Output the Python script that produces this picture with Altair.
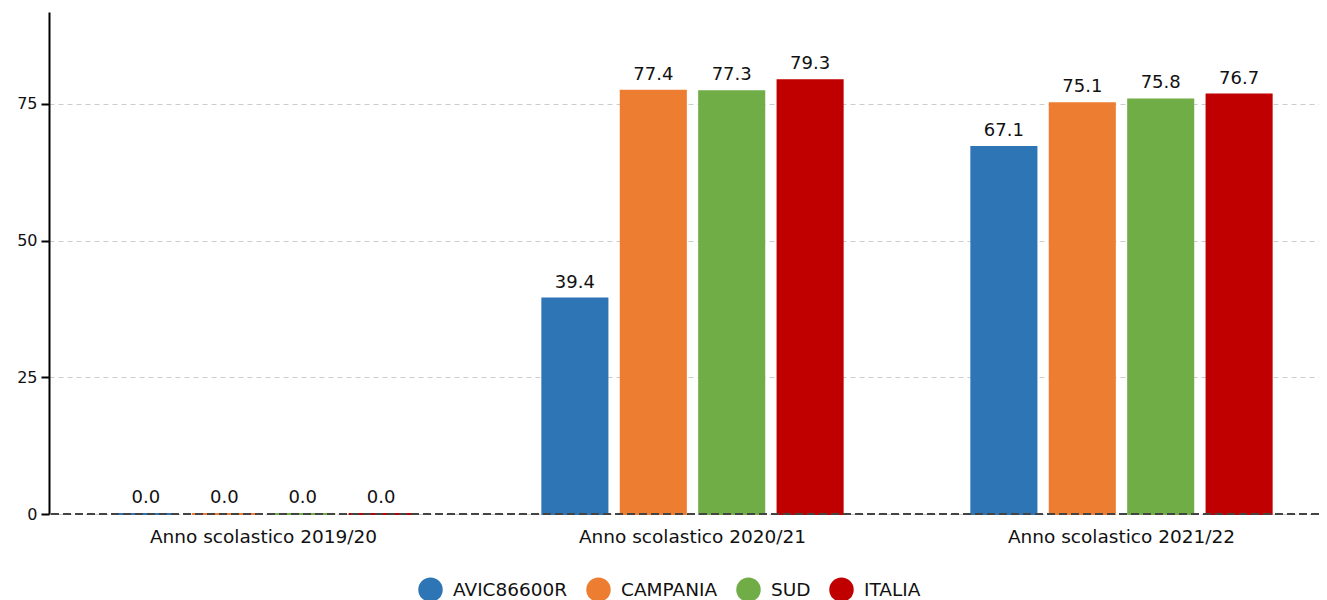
import altair as alt
import pandas as pd

years = ["Anno scolastico 2019/20", "Anno scolastico 2020/21", "Anno scolastico 2021/22"]
series = ["AVIC86600R", "CAMPANIA", "SUD", "ITALIA"]
colors = ["#2E75B6", "#ED7D31", "#70AD47", "#C00000"]
avic = [0.0, 39.4, 67.1]
campania = [0.0, 77.4, 75.1]
sud = [0.0, 77.3, 75.8]
italia = [0.0, 79.3, 76.7]

rows = []
for s, vals in zip(series, [avic, campania, sud, italia]):
    for y, v in zip(years, vals):
        rows.append({"anno": y, "serie": s, "valore": v})
df = pd.DataFrame(rows)

FONT = "DejaVu Sans"

x = alt.X("anno:N", sort=years, title=None,
          scale=alt.Scale(paddingInner=0.30, paddingOuter=0.15, range=[0, 1287]),
          axis=alt.Axis(labelAngle=0, ticks=False, domain=False, labelFontSize=18.5,
                        labelFont=FONT, labelColor="#111", labelPadding=13, labelLimit=400))
xo = alt.XOffset("serie:N", sort=series, scale=alt.Scale(paddingInner=0.17, paddingOuter=0))
y = alt.Y("valore:Q", title=None,
          scale=alt.Scale(domain=[0, 91.8], nice=False),
          axis=alt.Axis(values=[0, 25, 50, 75], labelFontSize=16, labelFont=FONT,
                        labelColor="#111", domainColor="#000", domainWidth=2,
                        tickColor="#000", tickSize=8, tickWidth=2,
                        gridColor="#cccccc", gridDash=[5, 4], gridWidth=1, labelPadding=4))
color = alt.Color("serie:N", sort=series,
                  scale=alt.Scale(domain=series, range=colors),
                  legend=alt.Legend(title=None, orient="none", direction="horizontal",
                                    legendX=369, legendY=565,
                                    symbolType="circle", symbolSize=600, symbolStrokeWidth=0,
                                    labelFontSize=18.5, labelFont=FONT, labelColor="#111",
                                    labelOffset=10, columnPadding=18, symbolOpacity=1))

base = alt.Chart(df)
bars = base.mark_bar(strokeWidth=2).encode(
    x=x, xOffset=xo, y=y, color=color,
    stroke=alt.Stroke("serie:N", sort=series, scale=alt.Scale(domain=series, range=colors), legend=None))
labels = base.mark_text(dy=-7, baseline="bottom", fontSize=18, font=FONT, color="#111").encode(
    x=x, xOffset=xo, y=y, text=alt.Text("valore:Q", format=".1f"))
zero = alt.Chart(pd.DataFrame({"v": [0]})).mark_rule(color="#444", strokeDash=[8, 4], strokeWidth=2).encode(
    y=alt.Y("v:Q"))

chart = alt.layer(bars, labels, zero).properties(
    width=1270, height=502,
    background="white",
    autosize=alt.AutoSizeParams(type="none"),
    padding={"left": 41, "top": 4, "right": 0, "bottom": 96},
).configure_view(stroke=None)

chart.save("out.html", embed_options={"renderer": "svg", "actions": False})
